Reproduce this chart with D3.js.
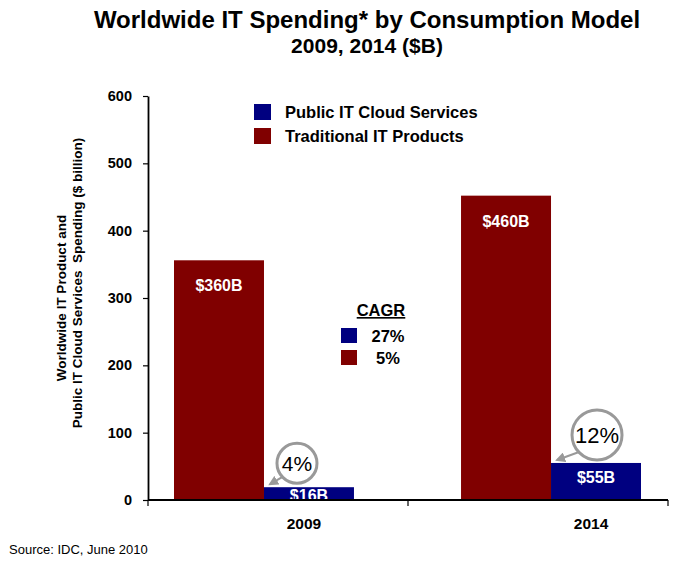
<!DOCTYPE html>
<html>
<head>
<meta charset="utf-8">
<script src="https://cdn.jsdelivr.net/npm/d3@7"></script>
<style>
  html, body { margin: 0; padding: 0; background: #fff; }
  svg { display: block; font-family: "Liberation Sans", Arial, sans-serif; }
</style>
</head>
<body>
<svg id="chart" width="674" height="562"></svg>
<script>
// ---- data ----
const years = ["2009", "2014"];
const seriesNames = ["Public IT Cloud Services", "Traditional IT Products"];
const traditionalValues = [356, 452];
const cloudValues = [19, 55];
const traditionalLabels = ["$360B", "$460B"];
const cloudLabels = ["$16B", "$55B"];
const cloudShare = ["4%", "12%"];
const cagrValues = ["27%", "5%"];
const yTicks = [0, 100, 200, 300, 400, 500, 600];

const colors = { cloud: "#000080", traditional: "#800000" };

const svg = d3.select("#chart");
const FONT = '"Liberation Sans", Arial, sans-serif';

// ---- scales ----
const y = d3.scaleLinear().domain([0, 600]).range([500, 96]);
const xGroup = d3.scaleBand().domain(years).range([174, 641]).paddingInner(0.373);
const xInner = d3.scaleBand().domain(["traditional", "cloud"]).range([0, xGroup.bandwidth()]);
const xAxisBand = d3.scaleBand().domain(years).range([148, 668]);

// ---- title ----
svg.append("text").attr("x", 367).attr("y", 28).attr("text-anchor", "middle")
  .style("font-size", "24px").style("font-weight", "bold")
  .text("Worldwide IT Spending* by Consumption Model");
svg.append("text").attr("x", 367).attr("y", 53).attr("text-anchor", "middle")
  .style("font-size", "21px").style("font-weight", "bold")
  .text("2009, 2014 ($B)");

// ---- bars ----
const rows = years.map((yr, i) => ({
  year: yr,
  parts: [
    { key: "traditional", value: traditionalValues[i], label: traditionalLabels[i] },
    { key: "cloud", value: cloudValues[i], label: cloudLabels[i] }
  ]
}));

const groups = svg.append("g").selectAll("g").data(rows).join("g")
  .attr("transform", d => `translate(${xGroup(d.year)},0)`);

groups.selectAll("rect").data(d => d.parts).join("rect")
  .attr("x", d => xInner(d.key))
  .attr("y", d => y(d.value))
  .attr("width", xInner.bandwidth())
  .attr("height", d => y(0) - y(d.value))
  .attr("fill", d => colors[d.key]);

groups.selectAll("text.barlab").data(d => d.parts).join("text")
  .attr("class", "barlab")
  .attr("x", d => xInner(d.key) + xInner.bandwidth() / 2)
  .attr("y", d => d.key === "traditional" ? y(d.value) + 31 : Math.min(y(d.value) + 20, y(0) + 1))
  .attr("text-anchor", "middle")
  .style("font-size", "16px").style("font-weight", "bold").attr("fill", "#fff")
  .text(d => d.label);

// ---- y axis ----
const yAxis = d3.axisLeft(y).tickValues(yTicks).tickSize(5).tickSizeOuter(0).tickPadding(11);
const gy = svg.append("g").attr("transform", "translate(148,0)").call(yAxis);
gy.select(".domain").attr("stroke", "#000").attr("stroke-width", 1.8);
gy.selectAll(".tick line").attr("stroke", "#000").attr("stroke-width", 1.2);
gy.selectAll(".tick text").style("font-size", "14.5px").style("font-weight", "bold")
  .style("font-family", FONT).attr("fill", "#000");

// ---- x axis ----
const gx = svg.append("g");
gx.append("line").attr("x1", xAxisBand.range()[0]).attr("x2", xAxisBand.range()[1])
  .attr("y1", y(0)).attr("y2", y(0)).attr("stroke", "#000").attr("stroke-width", 1.8);
const boundaries = [xAxisBand.range()[0]].concat(years.map(d => xAxisBand(d) + xAxisBand.bandwidth()));
gx.selectAll("line.sep").data(boundaries).join("line").attr("class", "sep")
  .attr("x1", d => d).attr("x2", d => d).attr("y1", y(0)).attr("y2", y(0) + 6)
  .attr("stroke", "#000").attr("stroke-width", 1.2);
gx.selectAll("text").data(years).join("text")
  .attr("x", d => xGroup(d) + xGroup.bandwidth() / 2 + 40)
  .attr("y", 529).attr("text-anchor", "middle")
  .style("font-size", "15.5px").style("font-weight", "bold")
  .text(d => d);

// ---- y axis title ----
svg.append("text").attr("transform", "translate(66,298) rotate(-90)")
  .attr("text-anchor", "middle").style("font-size", "13.5px").style("font-weight", "bold")
  .text("Worldwide IT Product and");
svg.append("text").attr("transform", "translate(82,283) rotate(-90)")
  .attr("text-anchor", "middle").style("font-size", "13.5px").style("font-weight", "bold")
  .attr("xml:space", "preserve").style("white-space", "pre")
  .text("Public IT Cloud Services  Spending ($ billion)");

// ---- legend ----
const legendKeys = ["cloud", "traditional"];
const lg = svg.append("g").selectAll("g").data(seriesNames).join("g")
  .attr("transform", (d, i) => `translate(254,${104 + i * 24})`);
lg.append("rect").attr("width", 17).attr("height", 16)
  .attr("fill", (d, i) => colors[legendKeys[i]]);
lg.append("text").attr("x", 31).attr("y", 14)
  .style("font-size", "16.5px").style("font-weight", "bold").text(d => d);

// ---- CAGR box ----
svg.append("text").attr("x", 381).attr("y", 316).attr("text-anchor", "middle")
  .style("font-size", "16.5px").style("font-weight", "bold").style("text-decoration", "underline")
  .text("CAGR");
const cg = svg.append("g").selectAll("g").data(cagrValues).join("g")
  .attr("transform", (d, i) => `translate(341,${328 + i * 22})`);
cg.append("rect").attr("width", 16).attr("height", 15)
  .attr("fill", (d, i) => colors[legendKeys[i]]);
cg.append("text").attr("x", 47).attr("y", 13.5).attr("text-anchor", "middle")
  .style("font-size", "16.5px").style("font-weight", "bold").text(d => d);

// ---- share callouts ----
svg.append("defs").append("marker").attr("id", "arr")
  .attr("viewBox", "0 0 10 10").attr("refX", 8).attr("refY", 5)
  .attr("markerWidth", 5).attr("markerHeight", 5).attr("orient", "auto")
  .append("path").attr("d", "M0,0 L10,5 L0,10 z").attr("fill", "#999");

const callouts = years.map((yr, i) => ({ year: yr, value: cloudValues[i], text: cloudShare[i], big: i === 1 }));
const co = svg.append("g").selectAll("g").data(callouts).join("g");
co.each(function (d) {
  const g = d3.select(this);
  const bx = xGroup(d.year) + xInner("cloud");
  const r = d.big ? 25 : 20;
  const fs = d.big ? 22 : 21;
  const cx = bx + (d.big ? 46 : 33);
  const cy = y(d.value) - (d.big ? 28 : 24);
  g.append("line")
    .attr("x1", cx - r * 0.72).attr("y1", cy + r * 0.68)
    .attr("x2", bx + 6).attr("y2", y(d.value) - 3)
    .attr("stroke", "#999").attr("stroke-width", 2).attr("marker-end", "url(#arr)");
  g.append("circle").attr("cx", cx).attr("cy", cy).attr("r", r)
    .attr("fill", "#fff").attr("stroke", "#999").attr("stroke-width", 3);
  g.append("text").attr("x", cx).attr("y", cy + fs * 0.36).attr("text-anchor", "middle")
    .style("font-size", fs + "px").attr("fill", "#000").text(d.text);
});

// ---- source ----
svg.append("text").attr("x", 9).attr("y", 554)
  .style("font-size", "13px")
  .text("Source: IDC, June 2010");
</script>
</body>
</html>
